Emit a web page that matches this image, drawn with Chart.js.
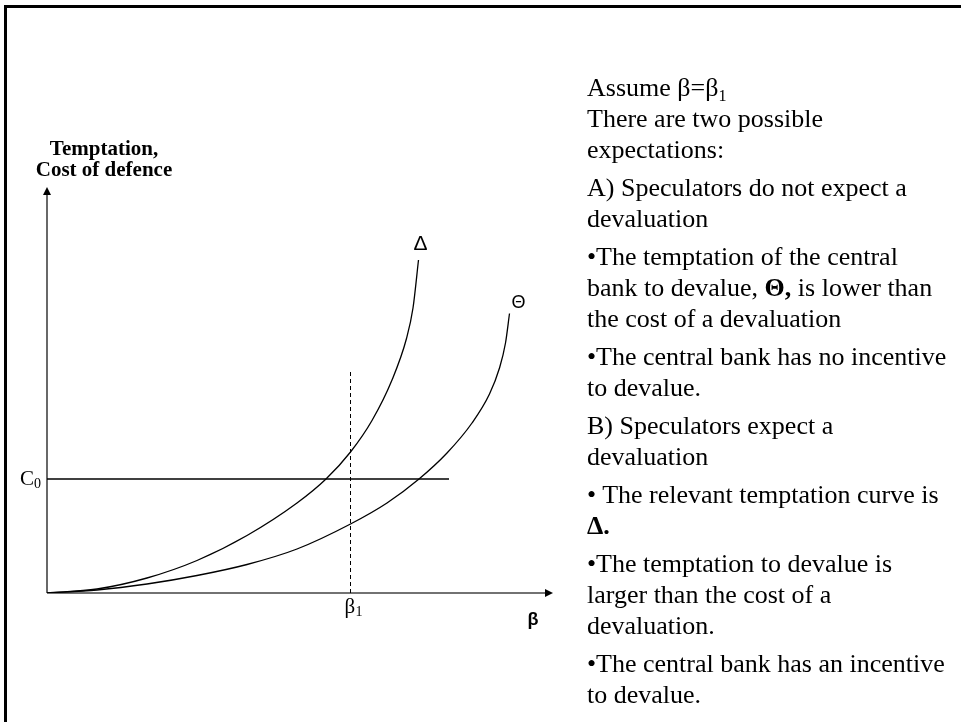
<!DOCTYPE html>
<html>
<head>
<meta charset="utf-8">
<script src="https://cdn.jsdelivr.net/npm/chart.js@4"></script>
<style>
  html, body { margin: 0; padding: 0; background: #fff; overflow: hidden; }
  #frame { position: absolute; left: 4px; top: 5px; width: 1000px; height: 800px;
           border-left: 3px solid #000; border-top: 3px solid #000; }
  #myChart { position: absolute; left: 0; top: 0; }
  #notes { position: absolute; left: 587px; top: 72px; font-family: "Liberation Serif", "Times New Roman", serif;
           font-size: 26px; line-height: 31px; color: #000; white-space: nowrap; }
  #notes p { margin: 0 0 7px 0; }
  #notes sub { font-size: 0.62em; vertical-align: -0.3em; line-height: 0; }
</style>
</head>
<body>
<div id="frame"></div>
<canvas id="myChart" width="961" height="722"></canvas>
<div id="notes">
  <p>Assume β=β<sub>1</sub><br>There are two possible<br>expectations:</p>
  <p>A) Speculators do not expect a<br>devaluation</p>
  <p>•The temptation of the central<br>bank to devalue, <b>Θ,</b> is lower than<br>the cost of a devaluation</p>
  <p>•The central bank has no incentive<br>to devalue.</p>
  <p>B) Speculators expect a<br>devaluation</p>
  <p>• The relevant temptation curve is<br><b>Δ.</b></p>
  <p>•The temptation to devalue is<br>larger than the cost of a<br>devaluation.</p>
  <p>•The central bank has an incentive<br>to devalue.</p>
</div>
<script>
// values (beta on x, temptation / cost on y)
const deltaX = [0, 10, 20, 30, 40, 50, 55.8, 60.7, 65, 69, 71.9, 73.2, 74.3];
const deltaY = [0, 0.8, 3, 6.5, 11.5, 18, 22.8, 28.2, 34.5, 42.6, 50.9, 57, 66.6];
const thetaX = [0, 10, 20, 30, 40, 50, 60.7, 68, 74.4, 80, 85, 88.5, 90.5, 91.7, 92.5];
const thetaY = [0, 0.6, 1.8, 3.5, 5.7, 8.8, 13.8, 18, 22.8, 28, 34, 39.8, 45, 50, 55.9];
const c0 = 22.8;        // cost of defence level
const c0End = 80.4;     // where the C0 line stops
const beta1 = 60.7;
const beta1Top = 44.2;
const xMax = 101.2;
const yMax = 81.2;

function graph() {
  let deltaData = [];
  for (let i = 0; i < deltaX.length; i++) {
    deltaData.push({x: deltaX[i], y: deltaY[i]});
  }
  let thetaData = [];
  for (let i = 0; i < thetaX.length; i++) {
    thetaData.push({x: thetaX[i], y: thetaY[i]});
  }
  let ctx = document.getElementById('myChart');

  const curve = {
    showLine: true,
    borderColor: '#000',
    borderWidth: 1.3,
    pointRadius: 0,
    fill: false,
    cubicInterpolationMode: 'monotone'
  };

  const datas = {
    datasets: [
      Object.assign({label: 'Δ', data: deltaData}, curve),
      Object.assign({label: 'Θ', data: thetaData}, curve),
      {
        label: 'C0',
        data: [{x: 0, y: c0}, {x: c0End, y: c0}],
        showLine: true, borderColor: '#000', borderWidth: 1.3, pointRadius: 0
      },
      {
        label: 'β1',
        data: [{x: beta1, y: 0}, {x: beta1, y: beta1Top}],
        showLine: true, borderColor: '#000', borderWidth: 1, borderDash: [4, 3], pointRadius: 0
      }
    ]
  };

  // axes with arrow heads
  const arrowAxes = {
    id: 'arrowAxes',
    beforeDatasetsDraw(chart) {
      const { ctx, scales } = chart;
      const x0 = scales.x.getPixelForValue(0), y0 = scales.y.getPixelForValue(0);
      const xe = scales.x.getPixelForValue(xMax), ye = scales.y.getPixelForValue(yMax);
      ctx.save();
      ctx.strokeStyle = '#444';
      ctx.fillStyle = '#000';
      ctx.lineWidth = 1.6;
      ctx.beginPath();
      ctx.moveTo(x0, y0); ctx.lineTo(xe - 5, y0);
      ctx.moveTo(x0, y0); ctx.lineTo(x0, ye + 5);
      ctx.stroke();
      ctx.beginPath();
      ctx.moveTo(xe, y0); ctx.lineTo(xe - 8, y0 - 4); ctx.lineTo(xe - 8, y0 + 4); ctx.closePath();
      ctx.moveTo(x0, ye); ctx.lineTo(x0 - 4, ye + 8); ctx.lineTo(x0 + 4, ye + 8); ctx.closePath();
      ctx.fill();
      ctx.restore();
    },
    afterDraw(chart) {
      const { ctx, scales } = chart;
      const x0 = scales.x.getPixelForValue(0), y0 = scales.y.getPixelForValue(0);
      const ye = scales.y.getPixelForValue(yMax);
      ctx.save();
      ctx.fillStyle = '#000';
      ctx.textBaseline = 'middle';

      // y axis title
      ctx.textAlign = 'center';
      ctx.font = 'bold 21px "Liberation Serif"';
      ctx.fillText('Temptation,', x0 + 57, ye - 37);
      ctx.fillText('Cost of defence', x0 + 57, ye - 16);

      // C0
      const yc = scales.y.getPixelForValue(c0);
      ctx.textAlign = 'left';
      ctx.font = '21px "Liberation Serif"';
      ctx.fillText('C', x0 - 27, yc);
      ctx.font = '14px "Liberation Serif"';
      ctx.fillText('0', x0 - 13, yc + 5);

      // beta1
      const xb = scales.x.getPixelForValue(beta1);
      ctx.font = '21px "Liberation Serif"';
      ctx.fillText('β', xb - 6, y0 + 14);
      ctx.font = '14px "Liberation Serif"';
      ctx.fillText('1', xb + 5, y0 + 19);

      // beta axis label
      ctx.textAlign = 'center';
      ctx.font = 'bold 18px "Liberation Sans"';
      ctx.fillText('β', scales.x.getPixelForValue(xMax) - 20, y0 + 27);

      // curve labels
      const dl = chart.getDatasetMeta(0).data;
      const tl = chart.getDatasetMeta(1).data;
      ctx.font = '21px "Liberation Sans"';
      ctx.fillText('Δ', dl[dl.length - 1].x + 2, dl[dl.length - 1].y - 16);
      ctx.font = '18px "Liberation Sans"';
      ctx.fillText('Θ', tl[tl.length - 1].x + 9, tl[tl.length - 1].y - 10);
      ctx.restore();
    }
  };

  const config = {
    type: 'scatter',
    data: datas,
    options: {
      responsive: false,
      animation: false,
      devicePixelRatio: 1,
      layout: { padding: { left: 47, top: 187, right: 408, bottom: 129 } },
      plugins: { legend: { display: false }, tooltip: { enabled: false } },
      scales: {
        x: { type: 'linear', min: 0, max: xMax, display: false },
        y: { type: 'linear', min: 0, max: yMax, display: false }
      }
    },
    plugins: [arrowAxes]
  };

  const myChart = new Chart(ctx, config);
}

graph();
</script>
</body>
</html>
